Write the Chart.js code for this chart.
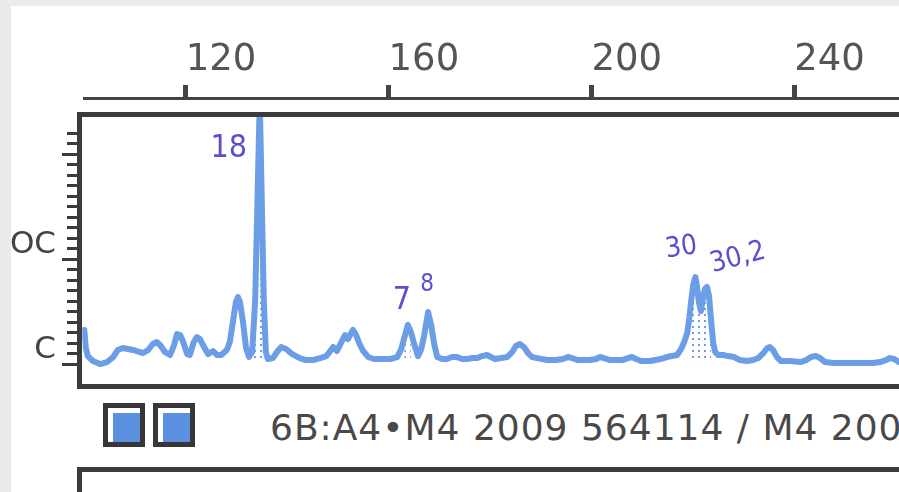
<!DOCTYPE html>
<html>
<head>
<meta charset="utf-8">
<script src="https://cdn.jsdelivr.net/npm/chart.js@4.4.1/dist/chart.umd.min.js"></script>
<style>
  html, body { margin: 0; padding: 0; background: #ebebeb; }
  #page { position: relative; width: 899px; height: 492px; overflow: hidden; }
  #paper { position: absolute; left: 11px; top: 6px; right: 0; bottom: 0; background: #ffffff; }
  #trace { position: absolute; left: 0; top: 0; }
  .dye { position: absolute; top: 403px; width: 42px; height: 44px; box-sizing: border-box;
         border: 5px solid #383636; background: #5b8fe0; box-shadow: inset 5px 5px 0 #ffffff; }
  #sample { position: absolute; left: 270px; top: 410px; font: 36px "DejaVu Sans", sans-serif;
            letter-spacing: 1px; line-height: 36px; color: #4a4848; white-space: nowrap; }
  #nextPanel { position: absolute; left: 77px; top: 467px; width: 900px; height: 40px;
               border-left: 5px solid #3d3a3a; border-top: 5px solid #3d3a3a; }
</style>
</head>
<body>
<div id="page">
  <div id="paper"></div>
  <canvas id="trace" width="921" height="392"></canvas>
  <div class="dye" style="left:103px"></div>
  <div class="dye" style="left:153px"></div>
  <div id="sample">6B:A4•M4 2009 564114 / M4 2009 564114</div>
  <div id="nextPanel"></div>
</div>
<script>
// fragment size (bp) and signal height (rfu) of the blue channel
const sizesBp = [
  100.0, 100.3, 100.7, 101.7, 103.1, 104.5, 105.7, 106.6, 107.6, 109.6, 111.6, 112.6, 113.5, 114.3,
  115.1, 115.9, 116.9, 117.7, 118.3, 118.9, 119.5, 120.3, 120.8, 121.6, 122.2, 122.8, 123.4, 124.4,
  125.4, 126.2, 127.0, 128.1, 128.7, 129.3, 129.9, 130.3, 130.7, 131.3, 131.9, 132.5, 133.1, 133.7,
  134.6, 135.4, 135.8, 136.2, 137.2, 138.0, 138.8, 139.8, 141.0, 142.5, 143.7, 145.1, 146.5, 147.7,
  148.5, 149.1, 149.8, 150.6, 151.4, 152.0, 152.6, 153.0, 153.6, 154.2, 155.0, 156.0, 157.1, 158.3,
  160.3, 161.7, 162.5, 163.1, 163.8, 164.4, 165.0, 165.8, 166.4, 167.0, 167.8, 168.4, 169.0, 169.6,
  170.6, 171.5, 172.5, 173.5, 174.5, 175.5, 176.5, 177.5, 178.4, 179.4, 180.2, 181.0, 182.2, 183.4,
  184.4, 185.1, 185.9, 186.7, 187.5, 188.3, 189.3, 191.3, 193.0, 194.4, 195.4, 196.2, 197.2, 199.7,
  200.9, 201.7, 202.5, 203.7, 206.1, 207.2, 208.0, 208.8, 209.8, 211.6, 213.6, 214.9, 215.9, 216.9,
  217.7, 218.3, 218.9, 219.3, 219.7, 220.1, 220.5, 220.8, 221.2, 221.6, 222.0, 222.4, 222.8, 223.2,
  223.6, 224.0, 224.4, 225.0, 226.0, 227.0, 228.1, 229.3, 230.7, 231.9, 232.9, 233.9, 234.7, 235.2,
  235.8, 236.6, 237.4, 239.2, 241.2, 242.4, 243.3, 244.3, 245.1, 246.1, 247.7, 251.0, 255.6, 256.9,
  258.1, 258.9, 259.7, 260.7, 261.9, 263.8
];
const signalRfu = [
  319, 148, 71, 24, -5, 14, 62, 129, 148, 129, 100, 129, 186, 205,
  167, 110, 81, 176, 281, 271, 205, 90, 81, 205, 252, 233, 176, 90,
  119, 81, 81, 129, 205, 395, 586, 633, 586, 395, 148, 62, 110, 605,
  2510, 605, 110, 43, 52, 110, 157, 138, 90, 52, 33, 33, 52, 71,
  119, 157, 119, 195, 271, 233, 290, 319, 271, 195, 119, 62, 43, 43,
  43, 62, 138, 243, 367, 300, 195, 71, 129, 262, 490, 367, 186, 62,
  43, 43, 62, 62, 43, 43, 52, 52, 71, 81, 62, 43, 52, 62,
  110, 167, 186, 157, 100, 62, 52, 33, 33, 43, 62, 52, 33, 33,
  43, 62, 52, 33, 33, 52, 62, 43, 24, 24, 43, 62, 71, 81,
  138, 205, 290, 433, 605, 757, 824, 748, 586, 500, 624, 710, 729, 643,
  414, 205, 110, 81, 81, 71, 62, 33, 24, 33, 52, 100, 148, 157,
  129, 62, 24, 24, 14, 33, 62, 71, 52, 14, 5, 5, 5, 14,
  33, 52, 43, 14, 5, 5
];
const sizeTicks = [120, 160, 200, 240];

// called alleles: name and peak position (bp), plus the shaded bins
const alleleNames = ['18', '7', '8', '30', '30,2'];
const allelePeaksBp = [134.6, 163.8, 167.8, 220.5, 222.8];
const calledBins = [[133.0, 136.0], [162.9, 164.6], [219.2, 223.8]];

// left ruler labels
const rulerValues = [0, 1000];
const rulerLabels = ['C', 'OC'];

const TRACE_BLUE = '#6c9ee8';
const FRAME = '#3d3a3a';

const Electro = {
    dotPattern: function(color) {
        const tile = document.createElement('canvas');
        tile.width = 6;
        tile.height = 6;
        const t = tile.getContext('2d');
        t.fillStyle = color;
        t.fillRect(2, 2, 2, 2);
        return tile.getContext('2d').createPattern(tile, 'repeat');
    },
    points: function() {
        return sizesBp.map((bp, i) => ({ x: bp, y: signalRfu[i] }));
    },
    binPoints: function() {
        // only the points inside a bin, with a gap between bins
        const out = [];
        calledBins.forEach(([from, to]) => {
            sizesBp.forEach((bp, i) => {
                if (bp >= from && bp <= to) out.push({ x: bp, y: signalRfu[i] });
            });
            out.push({ x: to + 0.05, y: null });
        });
        return out;
    },
    // panel frame and the rfu ruler on its left side
    frame: {
        id: 'frame',
        afterDraw: (chart) => {
            const ctx = chart.ctx;
            const y = chart.scales.y;
            ctx.save();
            ctx.fillStyle = FRAME;
            ctx.fillRect(77, 112, chart.width, 5);
            ctx.fillRect(77, 112, 5, 277);
            ctx.fillRect(77, 384, chart.width, 5);

            for (let v = 0; v <= 2200; v += 100) {
                const py = Math.round(y.getPixelForValue(v));
                const major = v % 1000 === 0;
                const x0 = major ? 62 : 67;
                ctx.fillRect(x0, py - 1, 77 - x0, 3);
            }

            ctx.fillStyle = '#444444';
            ctx.font = '31px "DejaVu Sans", sans-serif';
            ctx.textAlign = 'right';
            ctx.textBaseline = 'middle';
            rulerValues.forEach((v, i) => {
                ctx.fillText(rulerLabels[i], 56, y.getPixelForValue(v) - 14);
            });
            ctx.restore();
        }
    },
    // hand-written allele names beside each called peak
    alleles: {
        id: 'alleles',
        afterDatasetsDraw: (chart, args, opts) => {
            const ctx = chart.ctx;
            const { x, y } = chart.scales;
            ctx.save();
            ctx.fillStyle = opts.color;
            ctx.textAlign = 'center';
            ctx.textBaseline = 'middle';
            alleleNames.forEach((name, i) => {
                const bp = allelePeaksBp[i];
                const idx = sizesBp.indexOf(bp);
                const [dx, dy, rot, size] = opts.place[i];
                const px = x.getPixelForValue(bp) + dx;
                const py = y.getPixelForValue(signalRfu[idx]) + dy;
                ctx.save();
                ctx.translate(px, py);
                ctx.rotate(rot * Math.PI / 180);
                ctx.font = size + 'px "Liberation Sans Narrow", "DejaVu Sans Condensed", sans-serif';
                ctx.fillText(name, 0, 0);
                ctx.restore();
            });
            ctx.restore();
        }
    },
    create: function(ctx) {
        const clip = { left: 2, top: -19, right: 0, bottom: 0 };
        const config = {
            type: 'line',
            data: {
                datasets: [{
                    data: Electro.points(),
                    borderColor: TRACE_BLUE,
                    borderWidth: 6,
                    borderJoinStyle: 'round',
                    borderCapStyle: 'round',
                    pointRadius: 0,
                    tension: 0,
                    fill: false,
                    clip: clip,
                    order: 0
                }, {
                    data: Electro.binPoints(),
                    borderWidth: 0,
                    pointRadius: 0,
                    tension: 0,
                    spanGaps: false,
                    backgroundColor: Electro.dotPattern(TRACE_BLUE),
                    fill: { value: 20 },
                    clip: clip,
                    order: 1
                }]
            },
            options: {
                responsive: false,
                devicePixelRatio: 1,
                animation: false,
                layout: { padding: { left: 84.3, right: 0, top: 0, bottom: 8 } },
                scales: {
                    x: {
                        type: 'linear',
                        position: 'top',
                        min: 100,
                        max: 265,
                        afterBuildTicks: (scale) => {
                            scale.ticks = sizeTicks.map(v => ({ value: v }));
                        },
                        afterFit: (scale) => { scale.height = 98; },
                        border: { display: true, color: '#444444', width: 3 },
                        grid: {
                            drawOnChartArea: false,
                            drawTicks: true,
                            tickLength: 13,
                            tickWidth: 5,
                            tickColor: '#444444'
                        },
                        ticks: {
                            align: 'start',
                            padding: 2,
                            color: '#555555',
                            font: { family: '"DejaVu Sans", sans-serif', size: 37 }
                        }
                    },
                    y: {
                        type: 'linear',
                        display: false,
                        min: -195,
                        max: 2529
                    }
                },
                plugins: {
                    legend: { display: false },
                    tooltip: { enabled: false },
                    alleles: {
                        color: '#5a4fd0',
                        place: [[-31, 49, 0, 32], [-6, -24, 0, 32], [-1, -27, 0, 24], [-14, -29, -8, 28], [31, -29, -15, 28]]
                    }
                }
            },
            plugins: [Electro.frame, Electro.alleles]
        };
        return new Chart(ctx, config);
    }
};

Electro.create(document.getElementById('trace'));
</script>
</body>
</html>
